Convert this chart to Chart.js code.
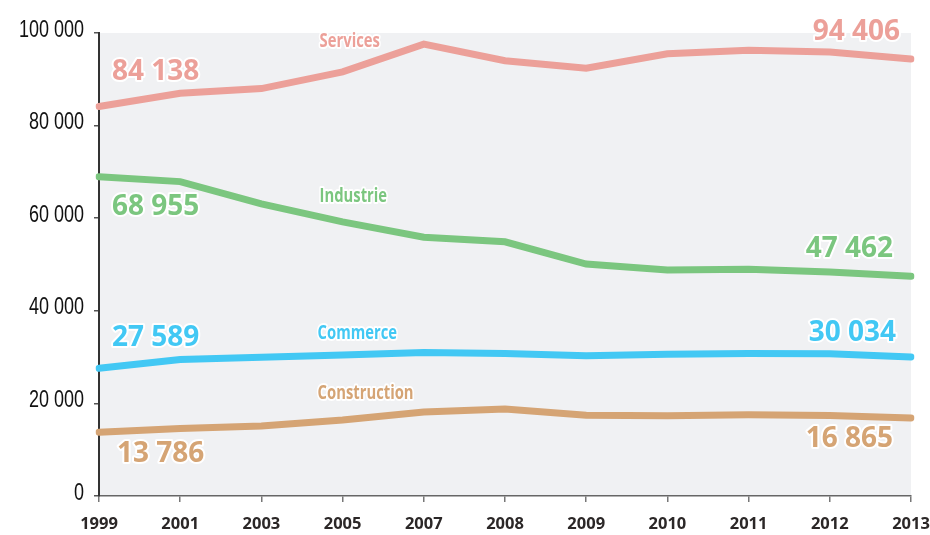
<!DOCTYPE html>
<html>
<head>
<meta charset="utf-8">
<script src="https://cdn.jsdelivr.net/npm/chart.js@4/dist/chart.umd.min.js"></script>
<style>
    html, body {margin: 0; padding: 0; background: #fff;}
    #wrap {width: 930px; height: 535px;}
</style>
</head>
<body>
<div id="wrap"><canvas id="emploiChart" width="930" height="535"></canvas></div>
<script>
var years = ['1999', '2001', '2003', '2005', '2007', '2008', '2009', '2010', '2011', '2012', '2013'];
var services = [84138, 87000, 88000, 91600, 97600, 94000, 92400, 95500, 96300, 95900, 94406];
var industrie = [68955, 67900, 63100, 59200, 55900, 54900, 50100, 48800, 49000, 48400, 47462];
var commerce = [27589, 29500, 29950, 30450, 31000, 30800, 30300, 30600, 30800, 30700, 30034];
var construction = [13786, 14600, 15100, 16400, 18150, 18800, 17450, 17350, 17550, 17400, 16865];
var yTicks = [0, 20000, 40000, 60000, 80000, 100000];

var seriesNames = ['Services', 'Industrie', 'Commerce', 'Construction'];
var seriesColors = ['#eca099', '#7bc67f', '#42c8f4', '#d5a474'];

function fmt(v) {
    return String(v).replace(/\B(?=(\d{3})+(?!\d))/g, ' ');
}

// labels next to the lines: anchored to a data point, then nudged
var valueLabels = [
    {ds: 0, i: 0, align: 'left', dx: 13, dy: -34},
    {ds: 0, i: 10, align: 'right', dx: -11, dy: -27},
    {ds: 1, i: 0, align: 'left', dx: 13, dy: 30},
    {ds: 1, i: 10, align: 'right', dx: -18, dy: -27},
    {ds: 2, i: 0, align: 'left', dx: 13, dy: -30},
    {ds: 2, i: 10, align: 'right', dx: -15, dy: -24},
    {ds: 3, i: 0, align: 'left', dx: 18, dy: 22},
    {ds: 3, i: 10, align: 'right', dx: -18, dy: 21}
];
var nameLabels = [
    {ds: 0, i: 3, dx: -23, dy: -31},
    {ds: 1, i: 3, dx: -23, dy: -26},
    {ds: 2, i: 3, dx: -25, dy: -22},
    {ds: 3, i: 3, dx: -25, dy: -27}
];

var plotBackground = {
    id: 'plotBackground',
    beforeDraw: function (chart) {
        var a = chart.chartArea;
        var ctx = chart.ctx;
        ctx.save();
        ctx.fillStyle = '#f0f1f3';
        ctx.fillRect(a.left, a.top, a.right - a.left, a.bottom - a.top);
        ctx.restore();
    }
};

// no narrow font installed, so squeeze the text horizontally
function squeezedText(ctx, text, x, y, sx, align, color, outline) {
    ctx.save();
    ctx.translate(x, y);
    ctx.scale(sx, 1);
    ctx.textAlign = align;
    if (outline) {
        ctx.lineJoin = 'round';
        ctx.lineWidth = 4;
        ctx.strokeStyle = '#ffffff';
        ctx.strokeText(text, 0, 0);
    }
    ctx.fillStyle = color;
    ctx.fillText(text, 0, 0);
    ctx.restore();
}

var yTickLabels = {
    id: 'yTickLabels',
    afterDraw: function (chart) {
        var ctx = chart.ctx;
        var ys = chart.scales.y;
        ctx.save();
        ctx.font = "24px 'Liberation Sans', Arial, sans-serif";
        ctx.textBaseline = 'middle';
        ys.ticks.forEach(function (t) {
            squeezedText(ctx, fmt(t.value), chart.chartArea.left - 15, ys.getPixelForValue(t.value) - 3, 0.75, 'right', '#111', false);
        });
        ctx.restore();
    }
};

var lineLabels = {
    id: 'lineLabels',
    afterDatasetsDraw: function (chart) {
        var ctx = chart.ctx;
        var xs = chart.scales.x;
        var ys = chart.scales.y;
        ctx.save();
        ctx.textBaseline = 'middle';

        ctx.font = "bold 28px 'Open Sans', sans-serif";
        valueLabels.forEach(function (l) {
            var v = chart.data.datasets[l.ds].data[l.i];
            squeezedText(ctx, fmt(v), xs.getPixelForValue(l.i) + l.dx, ys.getPixelForValue(v) + l.dy, 1, l.align, seriesColors[l.ds], true);
        });

        ctx.font = "bold 20px 'Open Sans', sans-serif";
        nameLabels.forEach(function (l) {
            var v = chart.data.datasets[l.ds].data[l.i];
            squeezedText(ctx, seriesNames[l.ds], xs.getPixelForValue(l.i) + l.dx, ys.getPixelForValue(v) + l.dy, 0.74, 'left', seriesColors[l.ds], true);
        });
        ctx.restore();
    }
};

function makeDataset(i, values) {
    return {
        label: seriesNames[i],
        data: values,
        borderColor: seriesColors[i],
        backgroundColor: seriesColors[i],
        borderWidth: 7,
        borderCapStyle: 'round',
        borderJoinStyle: 'miter',
        pointRadius: 0,
        tension: 0,
        fill: false
    };
}

new Chart(document.getElementById('emploiChart'), {
    type: 'line',
    data: {
        labels: years,
        datasets: [
            makeDataset(0, services),
            makeDataset(1, industrie),
            makeDataset(2, commerce),
            makeDataset(3, construction)
        ]
    },
    options: {
        responsive: false,
        animation: false,
        layout: {padding: {top: 33, right: 19, left: 0, bottom: 0}},
        plugins: {legend: {display: false}, tooltip: {enabled: false}},
        scales: {
            x: {
                offset: false,
                grid: {display: true, drawOnChartArea: false, tickLength: 6, color: '#777', lineWidth: 1.5},
                border: {display: true, color: '#666', width: 1.5},
                ticks: {
                    color: '#2b2727',
                    font: {family: "'Open Sans', sans-serif", size: 16.5, weight: 'bold'},
                    padding: 12,
                    maxRotation: 0,
                    autoSkip: false
                },
                afterFit: function (s) {
                    s.height = 39;
                    s.paddingLeft = 0;
                    s.paddingRight = 0;
                }
            },
            y: {
                min: 0,
                max: 100000,
                afterBuildTicks: function (s) {
                    s.ticks = yTicks.map(function (v) {
                        return {value: v};
                    });
                },
                grid: {display: true, drawOnChartArea: false, tickLength: 5, color: '#555', lineWidth: 1.5},
                border: {display: true, color: '#333', width: 2},
                ticks: {display: false},
                afterFit: function (s) {
                    s.width = 99;
                }
            }
        }
    },
    plugins: [plotBackground, lineLabels, yTickLabels]
});
</script>
</body>
</html>
